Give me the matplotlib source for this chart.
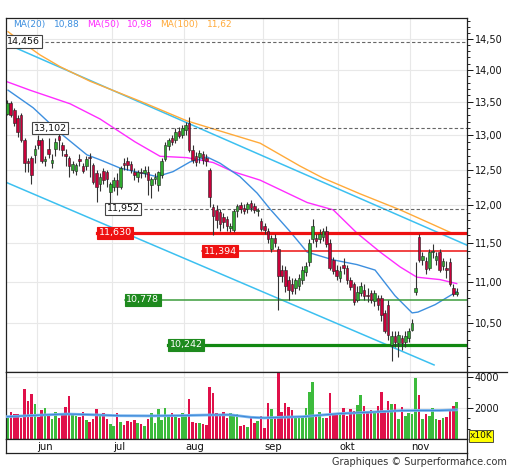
import matplotlib
matplotlib.use('Agg')
import matplotlib.pyplot as plt
import numpy as np
from matplotlib.ticker import FixedLocator, FuncFormatter, NullFormatter
from matplotlib.lines import Line2D

# ---------------- data ----------------
opens = [13.32,13.48,13.38,13.25,13.30,12.92,12.62,12.66,12.71,12.92,
         12.93,12.62,12.80,12.60,12.80,12.98,12.86,12.72,12.66,12.50,
         12.48,12.65,12.55,12.55,12.68,12.57,12.45,12.30,12.48,12.46,
         12.18,12.25,12.35,12.25,12.60,12.62,12.58,12.47,12.40,12.47,
         12.45,12.47,12.28,12.36,12.28,12.42,12.65,12.84,12.95,12.92,
         13.06,13.00,13.08,13.18,12.78,12.70,12.68,12.72,12.66,12.49,
         11.98,11.94,11.91,11.85,11.82,11.70,11.67,11.92,12.00,11.96,
         11.95,12.04,11.99,11.92,11.79,11.72,11.66,11.42,11.57,11.42,
         11.15,11.15,11.03,10.97,10.92,10.95,11.03,11.12,11.25,11.55,
         11.56,11.55,11.58,11.66,11.50,11.28,11.15,11.05,11.22,11.18,
         11.02,10.97,10.78,10.86,10.90,10.84,10.86,10.76,10.80,10.80,
         10.62,10.72,10.24,10.34,10.26,10.32,10.27,10.32,10.42,10.88,
         11.58,11.28,11.27,11.18,11.38,11.28,11.38,11.20,11.18,11.25,
         10.92,10.85]
highs = [13.53,13.51,13.41,13.30,13.33,12.95,12.66,12.70,12.86,13.00,
         12.95,12.70,12.95,12.72,12.95,13.04,12.90,12.80,12.70,12.62,
         12.60,12.72,12.60,12.70,12.73,12.60,12.50,12.45,12.52,12.50,
         12.32,12.40,12.45,12.55,12.66,12.68,12.62,12.52,12.50,12.52,
         12.55,12.55,12.40,12.45,12.48,12.66,12.90,12.95,13.00,13.10,
         13.12,13.15,13.20,13.27,12.85,12.75,12.78,12.76,12.72,12.52,
         12.02,12.00,11.95,11.90,11.86,11.76,11.95,12.02,12.05,12.02,
         12.05,12.08,12.04,11.97,11.83,11.76,11.70,11.60,11.62,11.46,
         11.22,11.20,11.08,11.05,11.05,11.10,11.20,11.25,11.55,11.82,
         11.62,11.68,11.70,11.72,11.55,11.32,11.22,11.20,11.30,11.22,
         11.06,11.00,10.95,11.00,10.98,10.92,10.90,10.90,10.84,10.84,
         10.66,10.78,10.40,10.40,10.40,10.36,10.40,10.44,10.55,11.25,
         11.62,11.38,11.32,11.42,11.48,11.38,11.42,11.30,11.26,11.30,
         10.98,10.92]
lows = [13.30,13.27,13.13,12.97,12.90,12.47,12.47,12.30,12.60,12.80,
        12.60,12.55,12.67,12.52,12.70,12.78,12.70,12.55,12.40,12.45,
        12.42,12.55,12.45,12.50,12.40,12.30,12.05,12.20,12.30,12.25,
        11.95,12.20,12.15,12.22,12.50,12.50,12.45,12.35,12.32,12.38,
        12.40,12.14,12.10,12.30,12.20,12.38,12.62,12.78,12.85,12.88,
        12.95,12.95,13.00,12.75,12.60,12.55,12.60,12.58,12.55,11.98,
        11.60,11.70,11.66,11.70,11.65,11.64,11.64,11.85,11.90,11.88,
        11.90,11.92,11.90,11.86,11.65,11.62,11.50,11.38,11.45,10.65,
        11.00,10.88,10.78,10.85,10.85,10.90,10.98,11.08,11.20,11.50,
        11.45,11.50,11.52,11.45,11.15,11.10,11.02,11.00,11.10,10.98,
        10.90,10.72,10.75,10.82,10.78,10.75,10.74,10.70,10.66,10.52,
        10.38,10.30,10.05,10.22,10.10,10.18,10.22,10.28,10.40,10.84,
        11.25,11.22,11.10,11.15,11.30,11.22,11.12,11.15,11.05,10.95,
        10.82,10.82]
closes = [13.48,13.30,13.18,13.04,12.92,12.60,12.60,12.42,12.80,12.85,
          12.62,12.65,12.72,12.64,12.90,12.92,12.78,12.70,12.55,12.58,
          12.57,12.62,12.48,12.65,12.66,12.33,12.25,12.40,12.35,12.36,
          12.30,12.35,12.25,12.52,12.56,12.57,12.50,12.42,12.46,12.45,
          12.50,12.35,12.37,12.39,12.46,12.62,12.85,12.92,12.90,13.05,
          12.99,13.10,13.15,12.78,12.64,12.61,12.74,12.64,12.62,12.12,
          11.86,11.80,11.75,11.78,11.72,11.72,11.92,11.99,11.95,11.93,
          12.02,11.97,11.94,11.93,11.68,11.67,11.55,11.57,11.50,11.08,
          11.08,10.95,10.90,10.89,11.02,11.05,11.15,11.20,11.50,11.72,
          11.52,11.62,11.66,11.48,11.18,11.14,11.07,11.14,11.18,11.02,
          10.94,10.75,10.88,10.95,10.82,10.82,10.78,10.86,10.72,10.60,
          10.40,10.36,10.34,10.27,10.36,10.26,10.35,10.40,10.50,10.92,
          11.28,11.33,11.16,11.38,11.38,11.33,11.15,11.26,11.15,10.98,
          10.85,10.88]
volume = [1400,1720,1610,1610,1380,3230,2450,2880,2260,1400,
          1890,2000,1550,1270,1760,1330,1530,2090,2750,1700,
          1500,1400,1720,1230,1120,1290,1940,1480,1660,1270,
          970,840,1700,1100,900,1150,1080,1230,1010,970,
          840,1270,1660,1050,1940,1250,1980,1400,1660,1440,
          1330,1660,1510,2560,1120,1050,1050,990,920,3330,
          2990,1660,1590,1760,1330,1700,1480,1590,860,900,
          770,1330,1050,1160,1480,730,2300,1940,1440,4340,
          1760,2300,2040,1870,1510,1440,1440,2000,3030,3660,
          1480,1720,1330,1330,2990,1610,1660,1610,2000,1480,
          1940,1810,2220,2840,2150,1700,1870,1810,2150,3030,
          1870,2450,2260,2260,1270,2060,1500,1700,1600,3960,
          2840,1290,1590,1500,2020,1290,1230,1380,1400,1940,
          2150,2370]

ma20_idx = [0.2,7.5,15.4,23.2,27.0,32.9,43.6,48.3,53.3,58.2,62.0,67.8,72.8,76.6,
            82.4,87.4,95.0,101.9,107.2,113.0,118.0,119.7,124.7,131]
ma20_val = [13.68,13.41,13.03,12.71,12.64,12.52,12.40,12.47,12.61,12.68,12.59,12.40,
            12.17,11.95,11.65,11.38,11.28,11.22,11.15,10.83,10.62,10.63,10.72,10.88]
ma50_idx = [0,6.6,18.3,27.0,37.2,44.5,52.4,60.0,65.8,73.7,87.4,95.0,101.9,108.7,
            114.5,119.4,126.1,131]
ma50_val = [13.81,13.68,13.47,13.24,12.90,12.69,12.67,12.60,12.47,12.35,12.04,11.94,
            11.63,11.38,11.19,11.06,11.03,10.98]
ma100_idx = [0.2,3.7,9.5,15.4,24.1,38.7,52.4,62.0,73.7,85.3,92.0,102.8,114.5,123.2,130]
ma100_val = [14.62,14.47,14.24,14.05,13.82,13.51,13.21,13.06,12.88,12.55,12.38,12.16,
             11.94,11.76,11.62]
vol_ma_idx = [0,9.5,17.4,24,33,41.6,50,59,65,71,75,79.5,86,92,97,103,108.7,114.5,120,126,131]
vol_ma_val = [1440,1540,1610,1570,1500,1490,1510,1550,1560,1400,1360,1400,1440,1550,
              1640,1700,1760,1830,1840,1840,1880]

trend_upper_idx = [-0.7, 134.0]
trend_upper_val = [14.43, 11.47]
trend_lower_idx = [-0.4, 124.4]
trend_lower_val = [12.32, 10.01]

level_values = [14.456, 13.102, 11.952, 11.630, 11.394, 10.778, 10.242]
level_labels = ['14,456', '13,102', '11,952', '11,630', '11,394', '10,778', '10,242']

month_labels = ['jun', 'jul', 'aug', 'sep', 'okt', 'nov']
month_start_idx = [9, 31, 52, 75, 97, 118]

price_ticks = [10.5, 11.0, 11.5, 12.0, 12.5, 13.0, 13.5, 14.0, 14.5]
vol_ticks = [2000, 4000]

legend_items = [('MA(20)', '10,88'), ('MA(50)', '10,98'), ('MA(100)', '11,62')]

# ---------------- layout / styles ----------------
level_start = [-0.4, 7.2, 28.5, 26.2, 56.8, 34.3, 46.9]
level_style = ['dash', 'dash', 'dash', 'red_thick', 'red_thin', 'green_thin', 'green_thick']

RED = '#c8003a'
GREEN = '#2faa2f'
VRED = '#e0104a'
VGREEN = '#3cbb3c'
C20 = '#3d8fdf'
C50 = '#ff2cff'
C100 = '#ffaa3a'
CTREND = '#3cc0f0'

W, H = 512, 470
fig = plt.figure(figsize=(W / 100, H / 100), dpi=100)
fig.patch.set_facecolor('white')

def fr(x0, y0, x1, y1):
    return [x0 / W, 1 - y1 / H, (x1 - x0) / W, (y1 - y0) / H]

ax = fig.add_axes(fr(6, 18, 467, 372))
axv = fig.add_axes(fr(6, 372, 467, 439))
axl = fig.add_axes(fr(6, 439, 467, 453))

n = len(closes)
x = np.arange(n)
o = np.array(opens); c = np.array(closes); hi = np.array(highs); lo = np.array(lows)
up = c >= o
XL = (-0.4, 134.0)

# ---------- main price panel ----------
ax.set_yscale('log')
ax.set_xlim(*XL)
ax.set_ylim(9.93, 14.85)

for v in price_ticks:
    ax.axhline(v, color='#e8e8e8', lw=0.8, zorder=0)
for m in month_start_idx:
    ax.axvline(m - 0.5, color='#e8e8e8', lw=0.8, zorder=0)
    axv.axvline(m - 0.5, color='#e8e8e8', lw=0.8, zorder=0)

# trend channel
ax.plot(trend_upper_idx, trend_upper_val, color=CTREND, lw=1.1, zorder=2)
ax.plot(trend_lower_idx, trend_lower_val, color=CTREND, lw=1.1, zorder=2)

# moving averages
ax.plot(ma100_idx, ma100_val, color=C100, lw=1.0, zorder=2)
ax.plot(ma50_idx, ma50_val, color=C50, lw=1.0, zorder=2)
ax.plot(ma20_idx, ma20_val, color=C20, lw=1.0, zorder=2)

# levels
styles = {
    'dash': dict(color='#666666', lw=0.8, ls=(0, (3, 2))),
    'red_thick': dict(color='#ee1111', lw=2.3, ls='-'),
    'red_thin': dict(color='#ee1111', lw=1.1, ls='-'),
    'green_thin': dict(color='#3c9c3c', lw=1.1, ls='-'),
    'green_thick': dict(color='#118811', lw=2.3, ls='-'),
}
box_styles = {
    'dash': dict(fc='white', ec='#444444', tc='#111111'),
    'red_thick': dict(fc='#ee1111', ec='#ee1111', tc='white'),
    'red_thin': dict(fc='#ee1111', ec='#ee1111', tc='white'),
    'green_thin': dict(fc='#1e8a1e', ec='#1e8a1e', tc='white'),
    'green_thick': dict(fc='#1e8a1e', ec='#1e8a1e', tc='white'),
}
for val, lab, st, sty in zip(level_values, level_labels, level_start, level_style):
    ax.plot([st, XL[1]], [val, val], zorder=2.5, **styles[sty])
    b = box_styles[sty]
    ax.text(st + 0.4, val, lab, ha='left', va='center', fontsize=6.8, color=b['tc'],
            zorder=6, bbox=dict(boxstyle='square,pad=0.18', fc=b['fc'], ec=b['ec'], lw=0.8))

# candles
ax.vlines(x, lo, hi, color='#333333', lw=0.8, zorder=3)
body_h = np.maximum(np.abs(c - o), 0.012)
ax.bar(x, body_h, bottom=np.minimum(o, c), width=0.76,
       color=np.where(up, GREEN, RED), edgecolor='#222222', linewidth=0.4, zorder=4)

ax.yaxis.set_major_locator(FixedLocator(price_ticks))
ax.yaxis.set_major_formatter(FuncFormatter(lambda v, p: f'{v:.2f}'.replace('.', ',')))
ax.yaxis.set_minor_locator(FixedLocator(np.round(np.arange(9.9, 14.9, 0.1), 2)))
ax.yaxis.set_minor_formatter(NullFormatter())
ax.yaxis.tick_right()
ax.tick_params(axis='y', which='major', direction='out', length=4, width=0.7,
               labelsize=7, pad=1.5, colors='#111111')
ax.tick_params(axis='y', which='minor', direction='out', length=2.5, width=0.6)
ax.set_xticks([])
for s in ax.spines.values():
    s.set_color('#222222'); s.set_linewidth(0.9)

# legend text at top
leg_pos = [(13, 54), (87, 127), (160, 207)]
for (name, val), (px1, px2), col in zip(legend_items, leg_pos, [C20, C50, C100]):
    fig.text(px1 / W, 1 - 25 / H, name, color=col, fontsize=6.5, ha='left', va='center')
    fig.text(px2 / W, 1 - 25 / H, val, color=col, fontsize=6.5, ha='left', va='center')

# ---------- volume panel ----------
axv.set_xlim(*XL)
axv.set_ylim(0, 4320)
for v in vol_ticks:
    axv.axhline(v, color='#e8e8e8', lw=0.8, zorder=0)
axv.bar(x, volume, width=0.75, color=np.where(up, VGREEN, VRED), zorder=2)
axv.plot(vol_ma_idx, vol_ma_val, color='#78b4ee', lw=2.0, zorder=3)
axv.plot(vol_ma_idx, vol_ma_val, color='#3a86d6', lw=0.7, zorder=3)
axv.yaxis.tick_right()
axv.set_yticks(vol_ticks)
axv.set_yticklabels([str(v) for v in vol_ticks])
axv.yaxis.set_minor_locator(FixedLocator([2000 / 3 * k for k in range(1, 7)]))
axv.tick_params(axis='y', which='major', direction='out', length=4, width=0.7,
                labelsize=7, pad=1.5, colors='#111111')
axv.tick_params(axis='y', which='minor', direction='out', length=2.5, width=0.6)
axv.set_xticks([])
for s in axv.spines.values():
    s.set_color('#222222'); s.set_linewidth(0.9)

# ---------- month label strip ----------
axl.set_xlim(*XL)
axl.set_ylim(0, 1)
axl.set_xticks([]); axl.set_yticks([])
for m, lab in zip(month_start_idx, month_labels):
    axl.text(m - 0.2, 0.45, lab, ha='left', va='center', fontsize=7.2, color='#111111')
for s in axl.spines.values():
    s.set_color('#222222'); s.set_linewidth(0.9)

# extra frame lines
fig.add_artist(Line2D([467 / W, 507 / W], [1 - 372 / H, 1 - 372 / H], color='#222222', lw=0.9))
fig.add_artist(Line2D([467 / W, 467 / W], [1 - 453 / H, 1 - 460 / H], color='#222222', lw=0.9))

fig.text(481 / W, 1 - 436 / H, 'x10K', ha='center', va='center', fontsize=6.5, color='#111111',
         bbox=dict(boxstyle='square,pad=0.12', fc='#ffff00', ec='#333333', lw=0.6))
fig.text(507 / W, 1 - 462 / H, 'Graphiques © Surperformance.com', ha='right', va='center',
         fontsize=7, color='#333333')

fig.savefig('out.png', dpi=100)
